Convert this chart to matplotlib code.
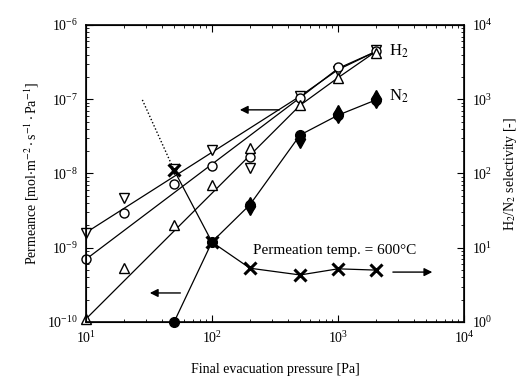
import numpy as np
import matplotlib
matplotlib.use('Agg')
import matplotlib.pyplot as plt

plt.rcParams['font.family'] = ['Liberation Serif', 'DejaVu Serif']
plt.rcParams['mathtext.fontset'] = 'stix'

# final evacuation pressure [Pa]
p_h2 = [10, 20, 50, 100, 200, 500, 1000, 2000]
h2_inv_tri = [1.6e-9, 4.7e-9, 1.15e-8, 2.1e-8, 1.17e-8, 1.1e-7, 2.4e-7, 4.6e-7]
h2_circle = [7e-10, 2.9e-9, 7.2e-9, 1.26e-8, 1.67e-8, 1.05e-7, 2.7e-7, 4.4e-7]
h2_tri = [1.1e-10, 5.3e-10, 2.0e-9, 7e-9, 2.2e-8, 8.3e-8, 1.95e-7, 4.2e-7]

# fitted lines through the H2 data
fit_p = [10, 500, 1000, 2000]
fit_inv_tri = [1.6e-9, 1.1e-7, 2.5e-7, 4.4e-7]
fit_circle = [7e-10, 1.05e-7, 2.6e-7, 4.4e-7]
fit_tri = [1.1e-10, 8.3e-8, 1.95e-7, 4.4e-7]

p_n2 = [50, 100, 200, 500, 1000, 2000]
n2_circle = [1.0e-10, 1.2e-9, 3.8e-9, 3.3e-8, 6.1e-8, 9.8e-8]
p_n2d = [200, 500, 1000, 2000]
n2_diamond = [3.6e-9, 2.9e-8, 6.3e-8, 1.0e-7]

# H2/N2 selectivity
p_sel = [50, 100, 200, 500, 1000, 2000]
sel = [111, 11.9, 5.3, 4.3, 5.2, 5.0]
dot_p = [28, 50]
dot_sel = [980, 111]

fig = plt.figure(figsize=(5.29, 3.83), dpi=100)
ax = fig.add_axes([0.1626, 0.1593, 0.7146, 0.7754])
ax.set_xscale('log')
ax.set_yscale('log')
ax.set_xlim(10, 1e4)
ax.set_ylim(1e-10, 1e-6)

k = dict(color='black', lw=0.9)
ax.plot(fit_p, fit_inv_tri, **k)
ax.plot(fit_p, fit_circle, **k)
ax.plot(fit_p, fit_tri, **k)
ax.plot(p_n2, n2_circle, **k)

mk = dict(ls='none', mec='black', mew=1.0, ms=6.5, clip_on=False)
ax.plot(p_h2, h2_inv_tri, marker='v', mfc='white', **mk)
ax.plot(p_h2, h2_circle, marker='o', mfc='white', **mk)
ax.plot(p_h2, h2_tri, marker='^', mfc='white', **mk)
ax.plot(p_n2d, n2_diamond, marker='d', mfc='black', ms=9, ls='none', mec='black', clip_on=False)
ax.plot(p_n2, n2_circle, marker='o', mfc='black', ms=7, ls='none', mec='black', clip_on=False)

ax2 = ax.twinx()
ax2.set_yscale('log')
ax2.set_ylim(1, 1e4)
ax2.plot(p_sel, sel, color='black', lw=0.9)
ax2.plot(dot_p, dot_sel, color='black', lw=1.0, ls=(0, (1, 1.5)))
ax2.plot(p_sel, sel, ls='none', marker='x', ms=8, mew=2.2, color='black')

ax.annotate('', xy=(158, 7.2e-8), xytext=(360, 7.2e-8),
            arrowprops=dict(arrowstyle='-|>', color='black', lw=1.0, mutation_scale=12))
ax.annotate('', xy=(30.5, 2.46e-10), xytext=(59, 2.46e-10),
            arrowprops=dict(arrowstyle='-|>', color='black', lw=1.0, mutation_scale=12))
ax2.annotate('', xy=(5890, 4.7), xytext=(2590, 4.7),
             arrowprops=dict(arrowstyle='-|>', color='black', lw=1.0, mutation_scale=12))

ax2.text(211, 9.3, 'Permeation temp. = 600°C', fontsize=11, va='center', ha='left')
ax.text(2550, 4.4e-7, 'H$_2$', fontsize=12, va='center', ha='left')
ax.text(2550, 1.1e-7, 'N$_2$', fontsize=12, va='center', ha='left')

for a in (ax, ax2):
    a.tick_params(which='both', direction='in', labelsize=10, pad=6)
    a.tick_params(which='major', length=5)
    a.tick_params(which='minor', length=2.5)
ax.tick_params(which='both', top=True)
for s in ax.spines.values():
    s.set_linewidth(1.2)

ax.set_xlabel('Final evacuation pressure [Pa]', fontsize=10, labelpad=12)
ax.set_ylabel('Permeance [mol$\\cdot$m$^{-2}\\cdot$s$^{-1}\\cdot$Pa$^{-1}$]', fontsize=10, labelpad=4)
ax2.set_ylabel('H$_2$/N$_2$ selectivity [-]', fontsize=10, labelpad=6)

fig.savefig('out.png', dpi=100)
